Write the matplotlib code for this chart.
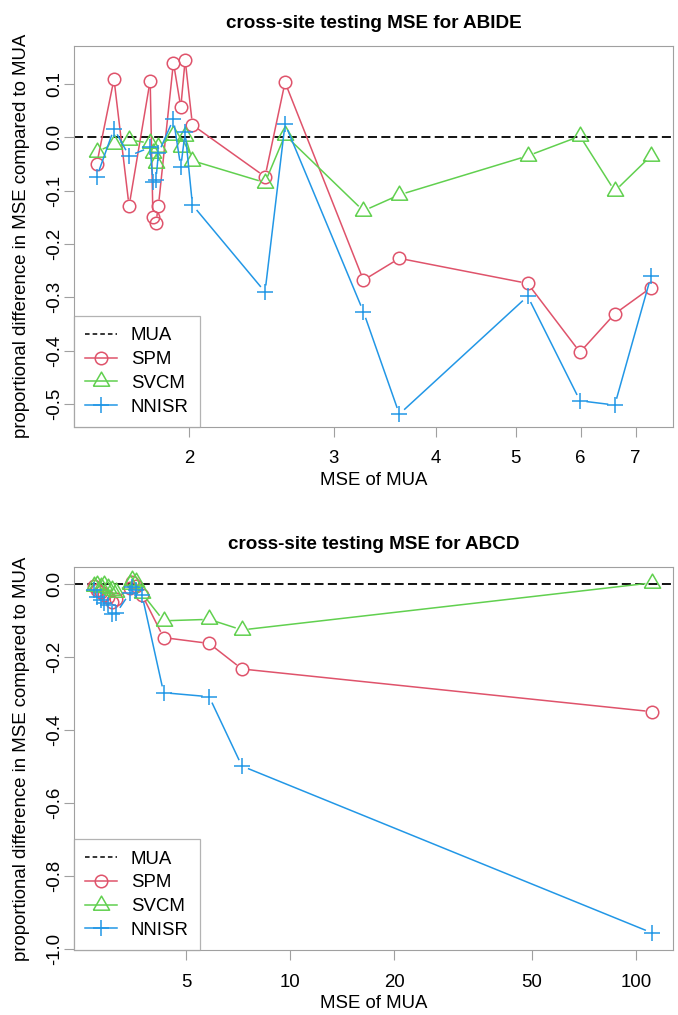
import numpy as np
import matplotlib
matplotlib.use("Agg")
import matplotlib.pyplot as plt
from matplotlib.lines import Line2D
from matplotlib.ticker import FixedLocator, NullLocator

plt.rcParams['font.family'] = ['Liberation Sans', 'DejaVu Sans']

# ABIDE: MSE of MUA per site and proportional difference per method
x_abide = [1.543, 1.620, 1.690, 1.793, 1.807, 1.822, 1.835, 1.914, 1.954, 1.978,
           2.019, 2.475, 2.618, 3.262, 3.608, 5.172, 5.990, 6.604, 7.31]
spm_abide = [-0.051, 0.109, -0.129, 0.106, -0.149, -0.161, -0.129, 0.140, 0.056, 0.145,
             0.023, -0.074, 0.103, -0.268, -0.227, -0.274, -0.403, -0.331, -0.282]
svcm_abide = [-0.027, -0.013, -0.005, -0.011, -0.030, -0.049, -0.019, 0.004, -0.018, 0.002,
              -0.044, -0.085, 0.004, -0.138, -0.108, -0.035, 0.002, -0.101, -0.035]
nnisr_abide = [-0.075, 0.016, -0.035, -0.019, -0.083, -0.081, -0.030, 0.034, -0.056, 0.010,
               -0.127, -0.290, 0.025, -0.327, -0.519, -0.298, -0.494, -0.502, -0.261]

# ABCD
x_abcd = [2.70, 2.77, 2.843, 2.90, 2.977, 3.057, 3.14, 3.43, 3.49, 3.59, 3.73,
          4.305, 5.83, 7.25, 111.2]
spm_abcd = [-0.005, -0.015, -0.020, -0.030, -0.035, -0.048, -0.040, -0.010, 0.007, -0.005, -0.029,
            -0.146, -0.162, -0.232, -0.349]
svcm_abcd = [-0.005, -0.002, -0.008, -0.002, -0.010, -0.015, -0.020, 0.000, 0.012, 0.005, -0.025,
             -0.100, -0.096, -0.125, 0.004]
nnisr_abcd = [-0.016, -0.034, -0.043, -0.050, -0.057, -0.080, -0.079, -0.025, -0.007, -0.015, -0.030,
              -0.297, -0.308, -0.498, -0.955]

labels = ["MUA", "SPM", "SVCM", "NNISR"]
colors = ["black", "#DF536B", "#61D04F", "#2297E6"]
tri = [(-0.866, -0.5), (0.866, -0.5), (0.0, 1.0), (-0.866, -0.5)]
markers = [None, "o", tri, "+"]
msizes = [0, 9, 13.5, 12]
axis_grey = "#a0a0a0"
fs = 13.4


def gapped_line(ax, x, y, color, gap=6.5):
    # lines stop short of the points, like type="b"
    pts = ax.transData.transform(np.column_stack([x, y]))
    inv = ax.transData.inverted()
    for (x0, y0), (x1, y1) in zip(pts[:-1], pts[1:]):
        d = np.hypot(x1 - x0, y1 - y0)
        if d <= 2 * gap:
            continue
        ux, uy = (x1 - x0) / d, (y1 - y0) / d
        seg = inv.transform([(x0 + ux * gap, y0 + uy * gap), (x1 - ux * gap, y1 - uy * gap)])
        ax.plot(seg[:, 0], seg[:, 1], color=color, lw=1.1, solid_capstyle='butt')


def panel(ax, x, series, title, xlim, ylim, xticks, yticks, ylabels):
    ax.set_xscale("log")
    ax.set_xlim(xlim)
    ax.set_ylim(ylim)
    ax.xaxis.set_major_locator(FixedLocator(xticks))
    ax.xaxis.set_minor_locator(NullLocator())
    ax.set_xticklabels([str(t) for t in xticks])
    ax.set_yticks(yticks)
    ax.set_yticklabels(ylabels, rotation=90, va="center")
    ax.axhline(0, color="black", ls=(0, (5, 2.4)), lw=1.3)
    for vals, c, m, ms in zip(series, colors[1:], markers[1:], msizes[1:]):
        gapped_line(ax, x, vals, c)
        ax.plot(x, vals, ls="none", marker=m, ms=ms, mfc="none", mec=c, mew=1.1)
    ax.set_title(title, fontsize=13.6, fontweight="bold", pad=13)
    ax.set_xlabel("MSE of MUA", fontsize=fs, labelpad=3.5)
    ax.set_ylabel("proportional difference in MSE compared to MUA", fontsize=fs, labelpad=12)
    for s in ax.spines.values():
        s.set_color(axis_grey)
    ax.tick_params(length=7, color=axis_grey, labelsize=fs)
    ax.tick_params(axis="x", pad=10)
    ax.tick_params(axis="y", pad=0.5)
    handles = [Line2D([], [], color=c, ls=((0, (3, 2)) if m is None else "-"), marker=m,
                      ms=ms, mfc="none", mec=c, mew=1.1, lw=1.1)
               for c, m, ms in zip(colors, markers, msizes)]
    leg = ax.legend(handles, labels, loc="lower left", borderaxespad=0, fancybox=False,
                    edgecolor=axis_grey, fontsize=fs, handlelength=1.7, handletextpad=0.75,
                    labelspacing=0.36, borderpad=0.6)
    leg.get_frame().set_linewidth(0.9)


fig = plt.figure(figsize=(6.78, 10.15), dpi=100)
ax1 = fig.add_axes([74 / 678, 1 - 426.7 / 1015, 598.7 / 678, 380.7 / 1015])
ax2 = fig.add_axes([74 / 678, 1 - 950 / 1015, 598.7 / 678, 382.7 / 1015])

panel(ax1, x_abide, [spm_abide, svcm_abide, nnisr_abide], "cross-site testing MSE for ABIDE",
      (1.448, 7.77), (-0.5426, 0.171), [2, 3, 4, 5, 6, 7],
      [-0.5, -0.4, -0.3, -0.2, -0.1, 0.0, 0.1],
      ["-0.5", "-0.4", "-0.3", "-0.2", "-0.1", "0.0", "0.1"])
panel(ax2, x_abcd, [spm_abcd, svcm_abcd, nnisr_abcd], "cross-site testing MSE for ABCD",
      (2.37, 127.7), (-1.002, 0.0466), [5, 10, 20, 50, 100],
      [-1.0, -0.8, -0.6, -0.4, -0.2, 0.0],
      ["-1.0", "-0.8", "-0.6", "-0.4", "-0.2", "0.0"])

fig.savefig("out.png", dpi=100)
